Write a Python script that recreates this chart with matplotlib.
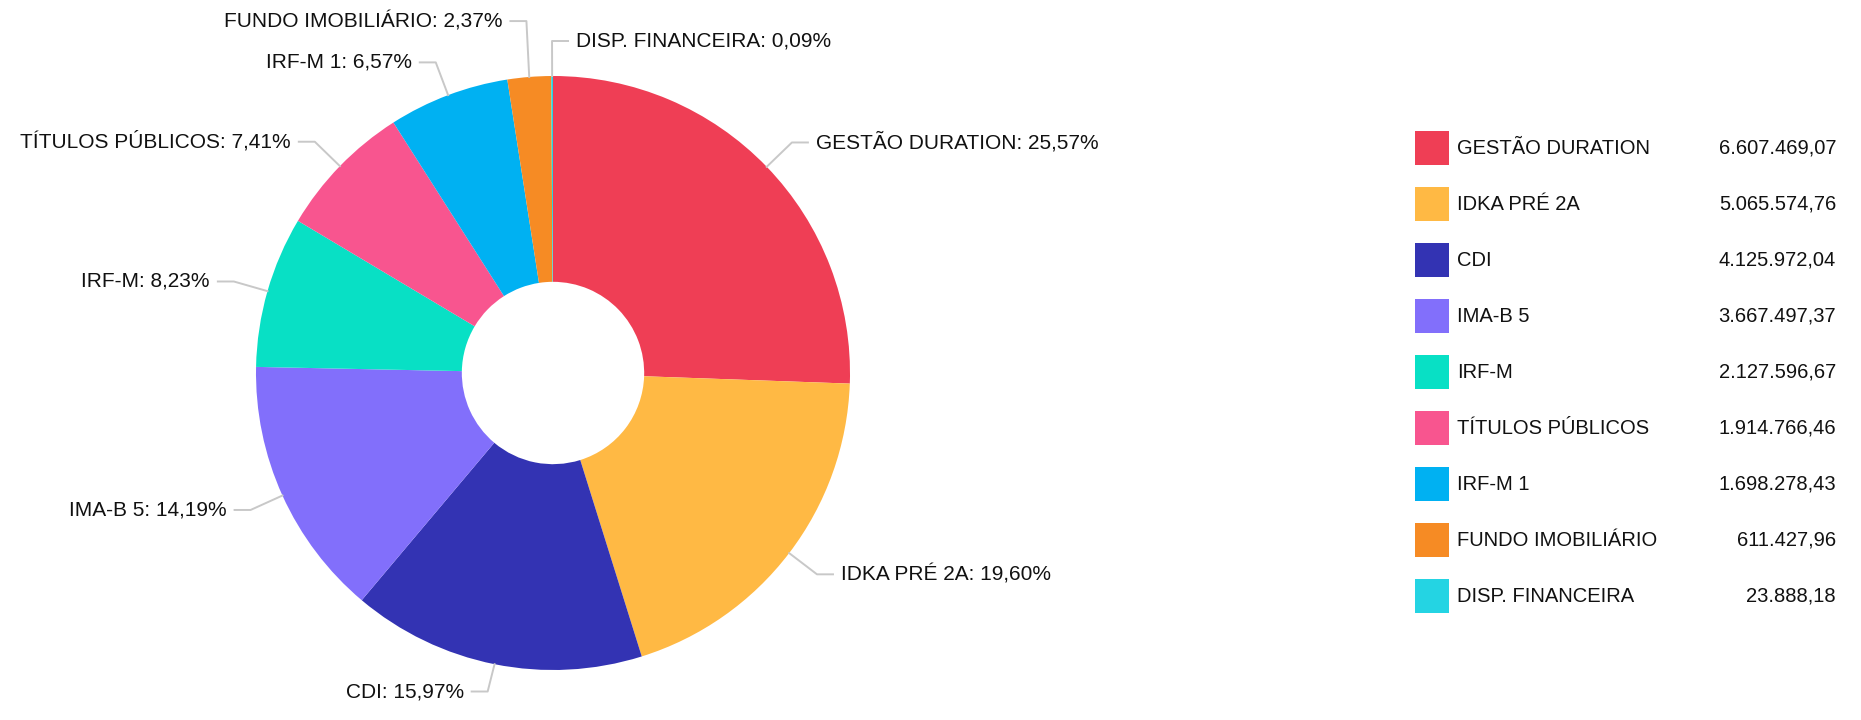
import numpy as np
import matplotlib
matplotlib.use('Agg')
import matplotlib.pyplot as plt
from matplotlib.patches import Rectangle

categorias = ['GESTÃO DURATION', 'IDKA PRÉ 2A', 'CDI', 'IMA-B 5', 'IRF-M',
              'TÍTULOS PÚBLICOS', 'IRF-M 1', 'FUNDO IMOBILIÁRIO', 'DISP. FINANCEIRA']
valores = [6607469.07, 5065574.76, 4125972.04, 3667497.37, 2127596.67,
           1914766.46, 1698278.43, 611427.96, 23888.18]
cores = ['#EF3E55', '#FFB944', '#3333B3', '#826FFB', '#08E0C5',
         '#F8558F', '#00B1F2', '#F68B24', '#24D4E3']

# ajustes de posicao dos rotulos (lado e deslocamento vertical em px)
lado_rotulo = ['d', 'd', 'e', 'e', 'e', 'e', 'e', 'e', 'd']
desloc_y = [0, 0, -7, 0, 0, 0, 0, -21, 0]

W, H = 1861, 720
fonte = ['Liberation Sans', 'DejaVu Sans']


def br(v):
    s = f'{v:,.2f}'
    return s.replace(',', 'X').replace('.', ',').replace('X', '.')


fig = plt.figure(figsize=(W / 100, H / 100), dpi=100)
ax = fig.add_axes([0, 0, 1, 1])

cx, cy, r = 553, H - 373, 297
ax.pie(valores, colors=cores, startangle=90, counterclock=False,
       center=(cx, cy), radius=r, frame=True,
       wedgeprops=dict(width=r * 0.693, linewidth=0))
ax.set_xlim(0, W)
ax.set_ylim(0, H)
ax.axis('off')

total = sum(valores)
acum = 0
for i, v in enumerate(valores):
    meio = (acum + v / 2) / total * 2 * np.pi
    acum += v
    ax0 = cx + r * np.sin(meio)
    ay0 = cy + r * np.cos(meio)
    ex = cx + (r + 35) * np.sin(meio)
    ey = cy + (r + 35) * np.cos(meio) - desloc_y[i]
    pct = f'{v / total * 100:.2f}'.replace('.', ',')
    txt = f'{categorias[i]}: {pct}%'
    if lado_rotulo[i] == 'd':
        hx = ex + 16
        ax.plot([ax0, ex, hx], [ay0, ey, ey], color='#c8c8c8', lw=1.4)
        ax.text(hx + 8, ey, txt, ha='left', va='center', fontsize=15,
                family=fonte, color='#111111')
    else:
        hx = ex - 16
        ax.plot([ax0, ex, hx], [ay0, ey, ey], color='#c8c8c8', lw=1.4)
        ax.text(hx - 8, ey, txt, ha='right', va='center', fontsize=15,
                family=fonte, color='#111111')

# legenda
for i, nome in enumerate(categorias):
    y = H - (148 + 56 * i)
    ax.add_patch(Rectangle((1415, y - 17), 34, 34, color=cores[i], lw=0))
    ax.text(1457, y, nome, ha='left', va='center', fontsize=14.5,
            family=fonte, color='#111111')
    ax.text(1836, y, br(valores[i]), ha='right', va='center', fontsize=14.5,
            family=fonte, color='#111111')

plt.savefig('out.png', dpi=100)
